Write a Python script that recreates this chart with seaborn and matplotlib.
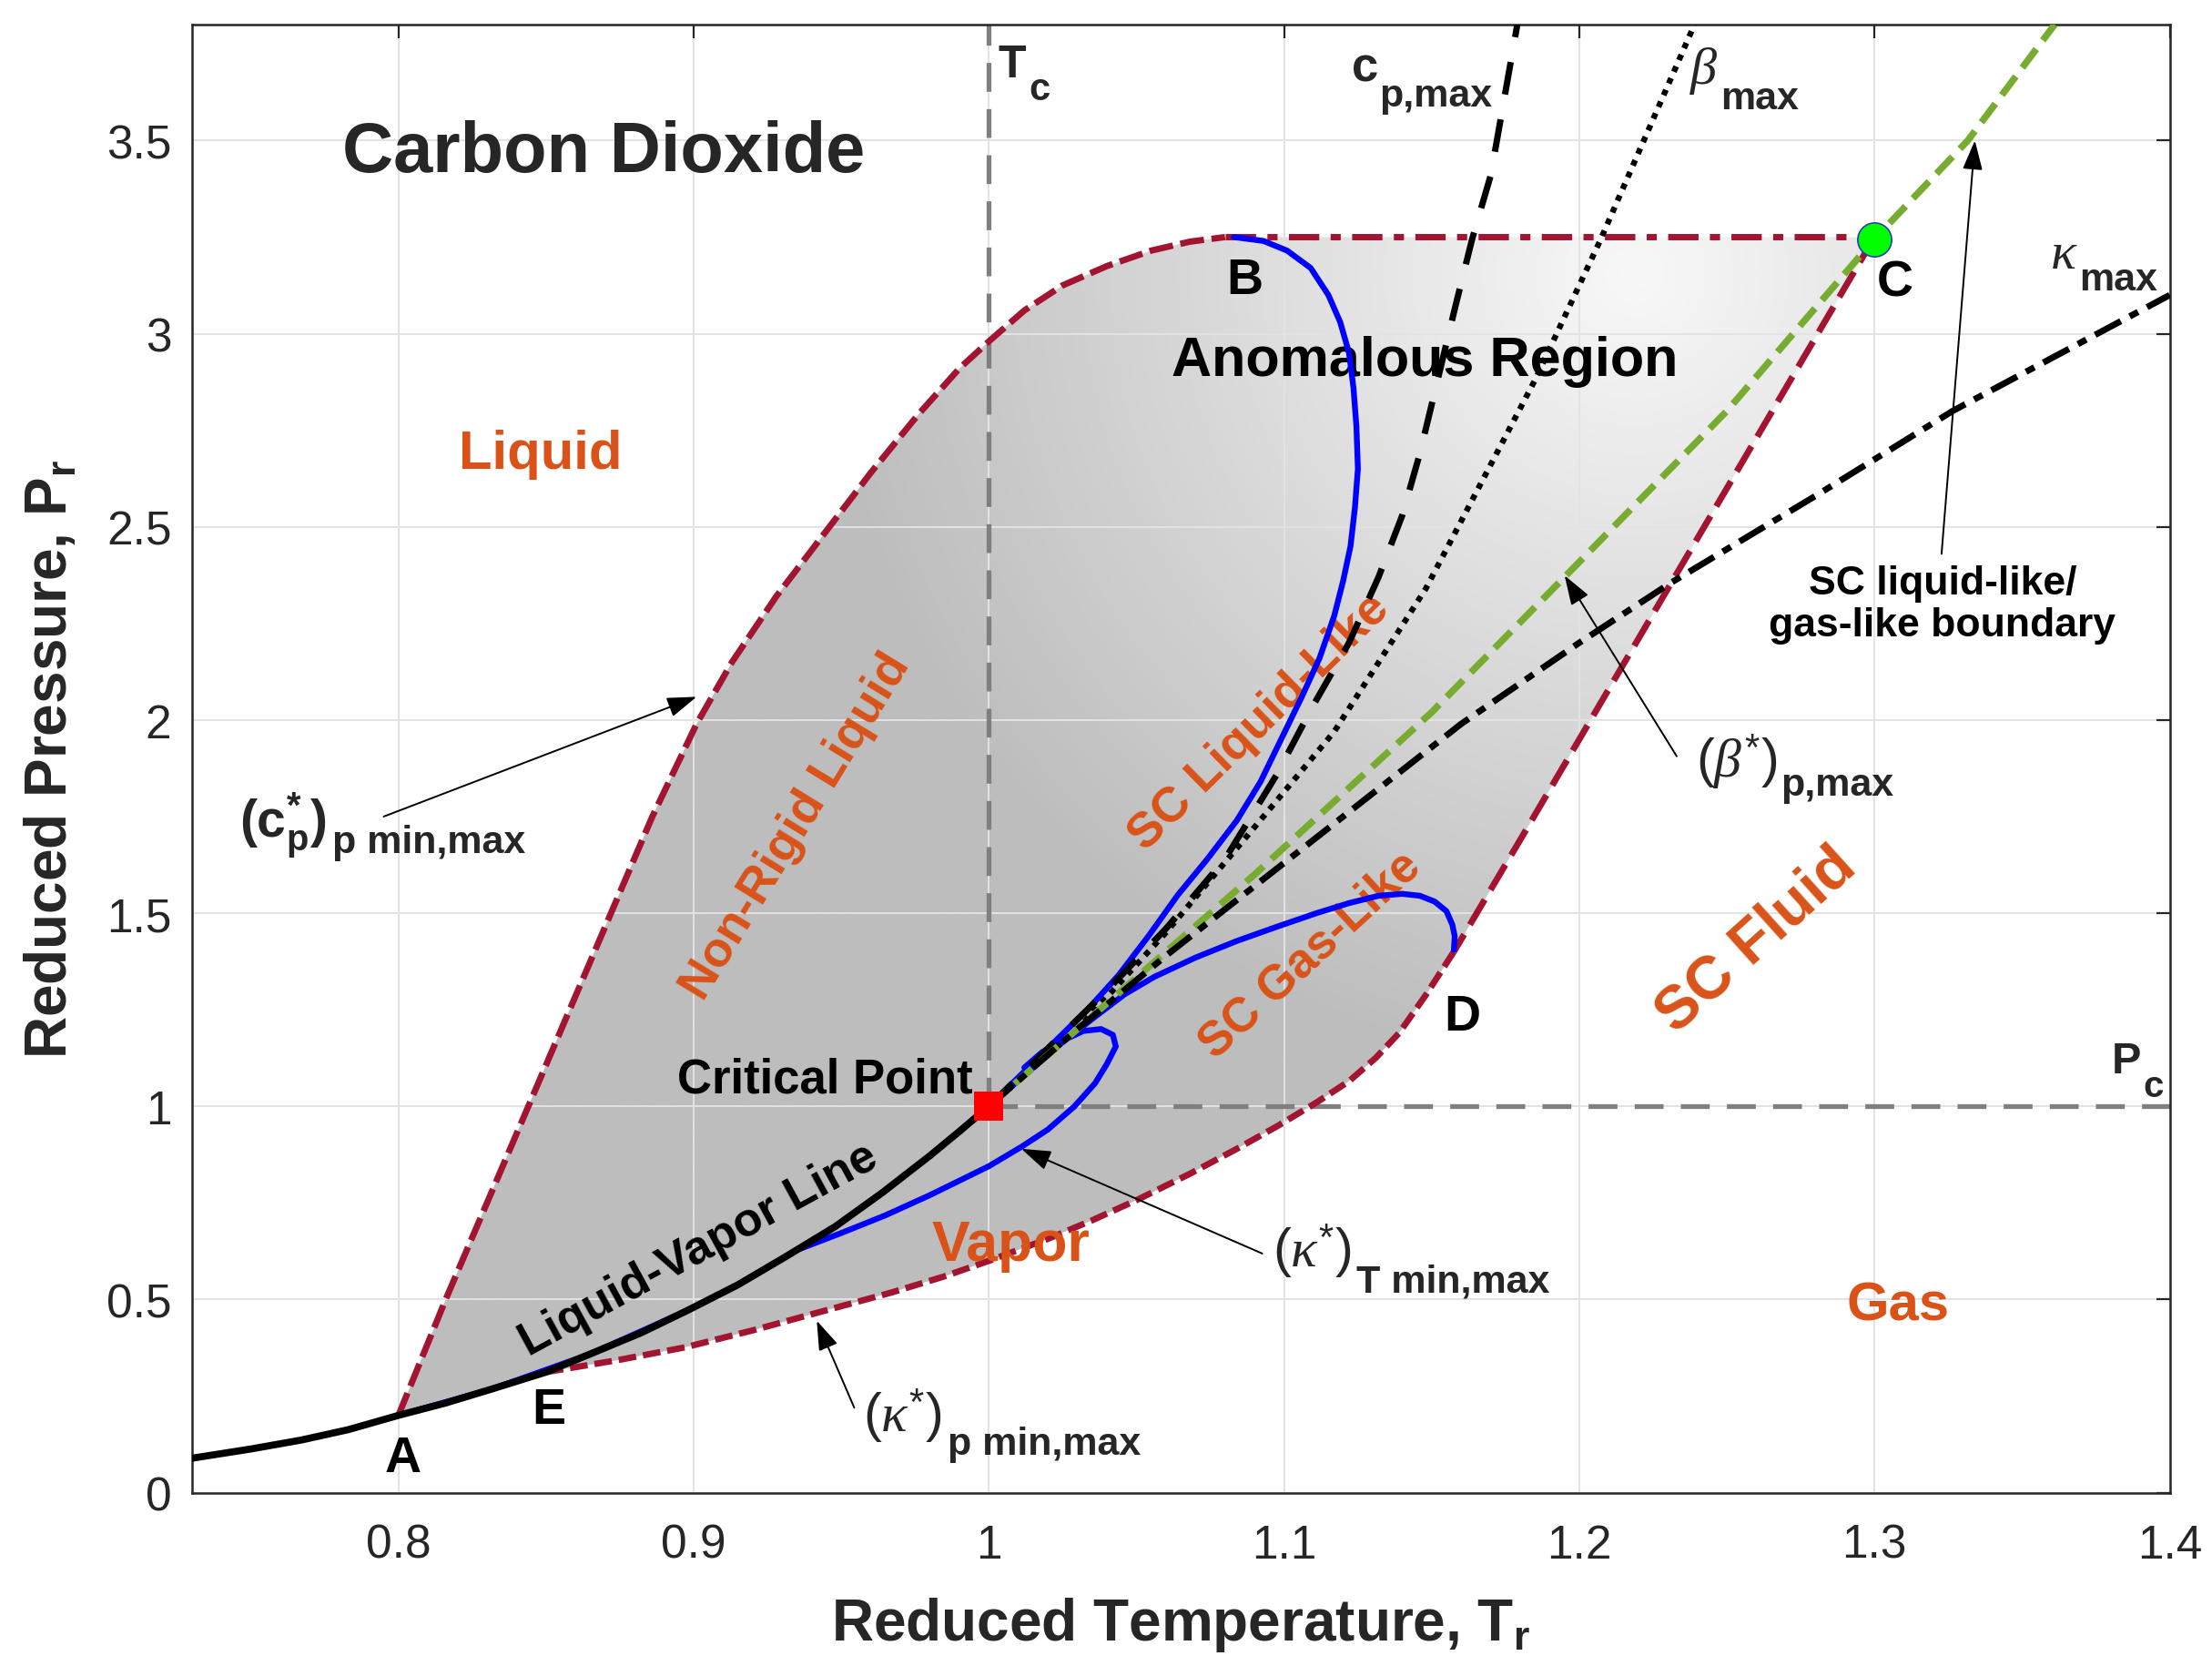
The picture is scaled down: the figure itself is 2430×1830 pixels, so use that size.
import matplotlib
matplotlib.use("Agg")
import matplotlib.pyplot as plt
import numpy as np
import seaborn as sns
from matplotlib.colors import LinearSegmentedColormap
from matplotlib.patches import Polygon

# values: reduced temperature T_r and reduced pressure P_r
sat_T = [0.73, 0.75, 0.767, 0.783, 0.80, 0.816, 0.832, 0.85, 0.865, 0.882,
         0.898, 0.915, 0.931, 0.948, 0.964, 0.980, 0.990, 1.0]
sat_P = [0.089, 0.113, 0.136, 0.163, 0.20, 0.232, 0.269, 0.312, 0.359, 0.413,
         0.472, 0.538, 0.610, 0.689, 0.777, 0.872, 0.935, 1.0]

# anomalous region boundary, A -> B (c_p* min/max)
left_T = [0.80, 0.808, 0.816, 0.83, 0.844, 0.858, 0.872, 0.886, 0.901, 0.913,
          0.928, 0.946, 0.96, 0.976, 0.99, 1.0, 1.012, 1.025, 1.04, 1.055,
          1.068, 1.08]
left_P = [0.20, 0.35, 0.50, 0.75, 1.00, 1.25, 1.50, 1.75, 1.99, 2.15,
          2.32, 2.50, 2.64, 2.79, 2.91, 2.98, 3.06, 3.125, 3.175, 3.215,
          3.238, 3.25]
# B -> C
top_T = [1.08, 1.30]
top_P = [3.25, 3.25]
# C -> D
right_T = [1.30, 1.28, 1.26, 1.24, 1.22, 1.20, 1.18, 1.1575]
right_P = [3.25, 2.99, 2.73, 2.47, 2.21, 1.95, 1.69, 1.40]
# D -> E (kappa* min/max)
lower_T = [1.1575, 1.148, 1.139, 1.131, 1.122, 1.111, 1.098, 1.084, 1.068, 1.05,
           1.035, 1.02, 1.0, 0.985, 0.967, 0.942, 0.92, 0.897, 0.875, 0.85]
lower_P = [1.40, 1.288, 1.19, 1.125, 1.065, 1.01, 0.95, 0.89, 0.825, 0.757,
           0.705, 0.657, 0.60, 0.56, 0.518, 0.466, 0.42, 0.376, 0.344, 0.312]

# blue curves
bl_liq_T = [1.0, 1.012, 1.024, 1.034, 1.044, 1.054, 1.064, 1.074, 1.084, 1.092,
            1.099, 1.106, 1.112, 1.117, 1.12, 1.1225, 1.124, 1.125, 1.1245, 1.1235,
            1.122, 1.119, 1.115, 1.109, 1.101, 1.093, 1.083]
bl_liq_P = [1.0, 1.09, 1.18, 1.255, 1.34, 1.44, 1.547, 1.64, 1.74, 1.84,
            1.95, 2.06, 2.16, 2.27, 2.36, 2.45, 2.55, 2.65, 2.76, 2.86,
            2.95, 3.03, 3.10, 3.17, 3.215, 3.24, 3.25]
bl_gas_T = [1.0, 1.012, 1.024, 1.036, 1.046, 1.056, 1.07, 1.084, 1.098, 1.111,
            1.122, 1.132, 1.14, 1.146, 1.151, 1.155, 1.157, 1.1578, 1.1575]
bl_gas_P = [1.0, 1.08, 1.16, 1.232, 1.29, 1.335, 1.385, 1.428, 1.466, 1.50,
            1.526, 1.545, 1.55, 1.545, 1.53, 1.505, 1.47, 1.44, 1.405]
bl_kap_T = [0.80, 0.832, 0.865, 0.898, 0.915, 0.935, 0.95, 0.965, 0.98, 1.0,
            1.011, 1.02, 1.029, 1.036, 1.04, 1.043, 1.042, 1.038, 1.032, 1.025,
            1.018, 1.012]
bl_kap_P = [0.20, 0.269, 0.359, 0.472, 0.538, 0.628, 0.672, 0.718, 0.77, 0.845,
            0.895, 0.94, 1.0, 1.06, 1.11, 1.155, 1.185, 1.20, 1.195, 1.17,
            1.14, 1.10]

# maxima lines from the critical point
cp_T = [1.0, 1.02, 1.04, 1.06, 1.08, 1.0973, 1.1096, 1.122, 1.132, 1.140,
        1.146, 1.152, 1.158, 1.1637, 1.170, 1.179]
cp_P = [1.0, 1.15, 1.30, 1.46, 1.64, 1.856, 2.034, 2.20, 2.37, 2.529,
        2.69, 2.88, 3.07, 3.245, 3.41, 3.8]
beta_T = [1.0, 1.03, 1.06, 1.093, 1.117, 1.148, 1.185, 1.207, 1.239]
beta_P = [1.0, 1.2, 1.45, 1.75, 1.97, 2.34, 2.88, 3.24, 3.8]
widom_T = [1.0, 1.03, 1.06, 1.09, 1.12, 1.15, 1.195, 1.25, 1.30, 1.3316, 1.361]
widom_P = [1.0, 1.2, 1.40, 1.6, 1.81, 2.02, 2.37, 2.80, 3.245, 3.5, 3.8]
kap_T = [1.0, 1.03, 1.06, 1.09, 1.12, 1.16, 1.20, 1.231, 1.28, 1.3265, 1.4]
kap_P = [1.0, 1.2, 1.39, 1.57, 1.75, 1.99, 2.2, 2.355, 2.58, 2.80, 3.1]

crit_T, crit_P = [1.0], [1.0]
c_T, c_P = [1.3], [3.245]

x_ticks = [0.8, 0.9, 1.0, 1.1, 1.2, 1.3, 1.4]
x_ticklabels = ["0.8", "0.9", "1", "1.1", "1.2", "1.3", "1.4"]
y_ticks = [0, 0.5, 1, 1.5, 2, 2.5, 3, 3.5]
y_ticklabels = ["0", "0.5", "1", "1.5", "2", "2.5", "3", "3.5"]

sns.set_style("white")
plt.rcParams["font.family"] = ["Liberation Sans", "DejaVu Sans"]
plt.rcParams["mathtext.fontset"] = "custom"
plt.rcParams["mathtext.rm"] = "Liberation Sans"
plt.rcParams["mathtext.bf"] = "Liberation Sans:bold"
plt.rcParams["mathtext.it"] = "Liberation Serif:italic"

RED = "#A2142F"
ORANGE = "#D95319"
GREEN = "#77AC30"
GREY = "#7F7F7F"

fig = plt.figure(figsize=(24.3, 18.31), dpi=100)
ax = fig.add_axes([0.0867, 0.104, 0.8942, 0.8807])


def curve(T, P, **kw):
    sns.lineplot(x=T, y=P, sort=False, estimator=None, ax=ax, **kw)


# shaded anomalous region
sat_AE = [(t, p) for t, p in zip(sat_T, sat_P) if 0.8 <= t <= 0.85]
verts = (list(zip(left_T, left_P)) + list(zip(right_T, right_P))
         + list(zip(lower_T, lower_P)) + sat_AE[::-1])
region = Polygon(verts, closed=True, facecolor="none", edgecolor="none",
                 transform=ax.transData)
ax.add_patch(region)
gx, gy = np.meshgrid(np.linspace(0, 1, 600), np.linspace(0, 1, 600))
dist = np.hypot((gx - 0.73) * 1.33, gy - 0.83)
shade = np.clip(1 - dist / 0.55, 0, 1)
grey_map = LinearSegmentedColormap.from_list("g", ["#bdbdbd", "#f8f8f8"])
im = ax.imshow(shade, extent=(0.73, 1.4, 0, 3.8), origin="lower", aspect="auto",
               cmap=grey_map, vmin=0, vmax=1, zorder=0.5, interpolation="bilinear")
im.set_clip_path(region)

# Tc / Pc guides
curve([1.0, 1.0], [1.0, 3.8], color=GREY, lw=3.8, linestyle=(0, (6, 3.6)), zorder=2)
curve([1.0, 1.4], [1.0, 1.0], color=GREY, lw=3.8, linestyle=(0, (6, 3.6)), zorder=2)

# boundary of the anomalous region
curve(left_T, left_P, color=RED, lw=5, linestyle=(0, (3.8, 1.2)), zorder=3)
curve(top_T, top_P, color=RED, lw=5, linestyle=(0, (4.8, 1.8, 1.6, 1.8)), zorder=3)
curve(right_T, right_P, color=RED, lw=5, linestyle=(0, (4.6, 1.8)), zorder=3)
curve(lower_T, lower_P, color=RED, lw=5, linestyle=(0, (2.8, 1.1)), zorder=3)

# blue extrema curves
for bt, bp in [(bl_kap_T, bl_kap_P), (bl_liq_T, bl_liq_P), (bl_gas_T, bl_gas_P)]:
    curve(bt, bp, color="#0000FF", lw=4.6, zorder=4)

# maxima lines
curve(cp_T, cp_P, color="black", lw=5, linestyle=(0, (5.2, 4)), zorder=5)
curve(beta_T, beta_P, color="black", lw=4.6, linestyle=(0, (1, 1.2)), zorder=5)
curve(widom_T, widom_P, color=GREEN, lw=5.4, linestyle=(0, (3.4, 1.6)), zorder=5)
curve(kap_T, kap_P, color="black", lw=5, linestyle=(0, (4.6, 1.6, 1.5, 1.6)), zorder=5)

# liquid-vapour line
curve(sat_T, sat_P, color="black", lw=5.6, zorder=6)

sns.scatterplot(x=crit_T, y=crit_P, marker="s", s=500, color="red",
                edgecolor="red", linewidth=0, ax=ax, zorder=8)
sns.scatterplot(x=c_T, y=c_P, marker="o", s=720, color="#00FF00",
                edgecolor="#1f3fbf", linewidth=1.2, ax=ax, zorder=8)

# axes styling
ax.set_xlim(0.73, 1.4)
ax.set_ylim(0, 3.8)
ax.set_xticks(x_ticks)
ax.set_xticklabels(x_ticklabels)
ax.set_yticks(y_ticks)
ax.set_yticklabels(y_ticklabels)
ax.set_axisbelow("line")
ax.grid(True, color="#e3e3e3", lw=1.4)
ax.tick_params(direction="in", length=11, width=1.6, top=True, right=True,
               labelsize=37, colors="#262626")
ax.tick_params(axis="x", pad=24)
ax.tick_params(axis="y", pad=16)
for sp in ax.spines.values():
    sp.set_color("#262626")
    sp.set_linewidth(1.8)
ax.set_xlabel(r"Reduced Temperature, $\mathbf{T_r}$", fontsize=46,
              fontweight="bold", labelpad=22)
ax.set_ylabel(r"Reduced Pressure, $\mathbf{P_r}$", fontsize=46,
              fontweight="bold", labelpad=22)

# region labels
ax.text(0.8695, 3.469, "Carbon Dioxide", fontsize=56, fontweight="bold",
        ha="center", va="center")
orange = dict(color=ORANGE, fontweight="bold", ha="center", va="center",
              rotation_mode="anchor")
ax.text(0.8482, 2.69, "Liquid", fontsize=43, **orange)
ax.text(0.9348, 1.726, "Non-Rigid Liquid", fontsize=39, rotation=58.5, **orange)
ax.text(1.0916, 1.996, "SC Liquid-Like", fontsize=39, rotation=44.5, **orange)
ax.text(1.1089, 1.394, "SC Gas-Like", fontsize=38, rotation=42.6, **orange)
ax.text(1.26, 1.43, "SC Fluid", fontsize=48, rotation=42, **orange)
ax.text(1.0076, 0.64, "Vapor", fontsize=45, **orange)
ax.text(1.308, 0.485, "Gas", fontsize=43, **orange)

black = dict(color="black", fontweight="bold", ha="center", va="center",
             rotation_mode="anchor")
ax.text(1.1475, 2.93, "Anomalous Region", fontsize=44, **black)
ax.text(0.9446, 1.07, "Critical Point", fontsize=38, **black)
ax.text(0.9017, 0.63, "Liquid-Vapor Line", fontsize=37.5, rotation=28.6, **black)
for lab, t, p in [("A", 0.8014, 0.089), ("E", 0.8509, 0.213), ("B", 1.0867, 3.139),
                  ("C", 1.307, 3.131), ("D", 1.1604, 1.232)]:
    ax.text(t, p, lab, fontsize=40, **black)
ax.text(1.323, 2.30, "SC liquid-like/\ngas-like boundary", fontsize=32,
        linespacing=1.15, **black)


def two_part(t, p, main, p_sub, sub, size=40, subsize=31, gap=3):
    # symbol plus a large MATLAB-style subscript placed right after it
    first = ax.text(t, p, main, fontsize=size, ha="left", va="baseline")
    ax.annotate(sub, xy=(1.0, p_sub), xycoords=(first, "data"),
                xytext=(gap, 0), textcoords="offset points", fontsize=subsize,
                fontweight="bold", ha="left", va="baseline", annotation_clip=False)


two_part(1.003, 3.666, r"$\mathbf{T}$", 3.606, "c", size=36, subsize=30, gap=2)
two_part(1.380, 1.088, r"$\mathbf{P}$", 1.026, "c", size=35, subsize=29, gap=2)
two_part(1.1227, 3.657, r"$\mathbf{c}$", 3.591, "p,max", size=38, gap=1)
two_part(1.2372, 3.65, r"$\beta$", 3.584, "max", size=42, gap=2)
two_part(1.3594, 3.17, r"$\kappa$", 3.115, "max", size=42, gap=1)

two_part(0.746, 1.70, r"$\mathbf{(c_p^{*})}$", 1.657, "p min,max", size=41, gap=5)
two_part(0.9575, 0.157, r"$(\kappa^{*})$", 0.101, "p min,max", size=43, gap=4)
two_part(1.0961, 0.585, r"$(\kappa^{*})$", 0.522, "T min,max", size=43, gap=4)
two_part(1.2396, 1.851, r"$(\beta^{*})$", 1.807, "p,max", size=43, gap=2)

# arrows
arrow = dict(arrowstyle="-|>,head_length=0.5,head_width=0.17", color="black",
             lw=1.4, mutation_scale=40, shrinkA=0, shrinkB=0)
ax.annotate("", xy=(0.901, 2.06), xytext=(0.795, 1.75), arrowprops=arrow)
ax.annotate("", xy=(0.9417, 0.445), xytext=(0.9544, 0.22), arrowprops=arrow)
ax.annotate("", xy=(1.011, 0.89), xytext=(1.0926, 0.619), arrowprops=arrow)
ax.annotate("", xy=(1.195, 2.374), xytext=(1.233, 1.906), arrowprops=arrow)
ax.annotate("", xy=(1.334, 3.50), xytext=(1.3227, 2.43), arrowprops=arrow)

fig.savefig("out.png", dpi=100, facecolor="white")
